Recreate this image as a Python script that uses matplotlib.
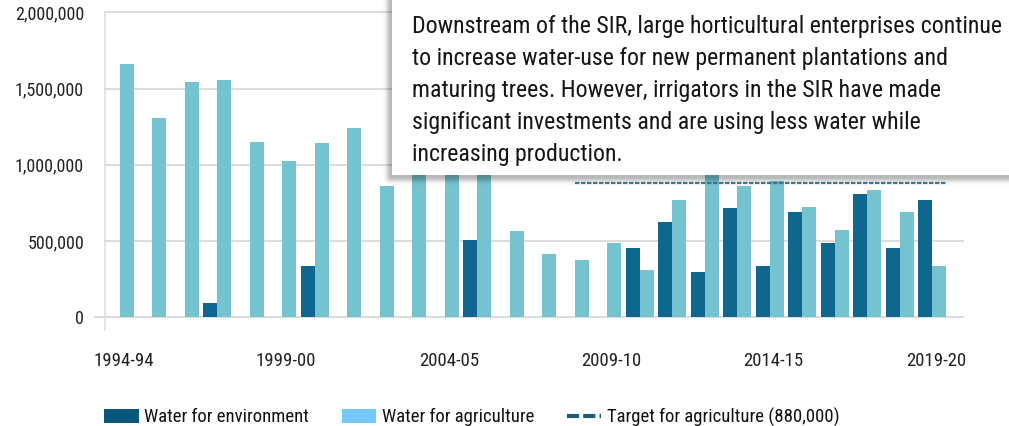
import matplotlib
matplotlib.use('Agg')
import matplotlib.pyplot as plt
import numpy as np
from matplotlib import font_manager as fm
from matplotlib.patches import Patch, Rectangle
from matplotlib.lines import Line2D

# ---------------- data ----------------
years = ["1994-95", "1995-96", "1996-97", "1997-98", "1998-99", "1999-00",
         "2000-01", "2001-02", "2002-03", "2003-04", "2004-05", "2005-06",
         "2006-07", "2007-08", "2008-09", "2009-10", "2010-11", "2011-12",
         "2012-13", "2013-14", "2014-15", "2015-16", "2016-17", "2017-18",
         "2018-19", "2019-20"]
water_env = [0, 0, 0, 90000, 0, 0, 337000, 0, 0, 0, 0, 506000, 0, 0, 0, 0,
             453000, 626000, 298000, 716000, 337000, 690000, 488000, 808000,
             453000, 771000]
water_agri = [1660000, 1305000, 1542000, 1559000, 1152000, 1025000, 1143000,
              1244000, 863000, 1250000, 1100000, 1200000, 563000, 416000,
              372000, 488000, 309000, 771000, 1050000, 863000, 896000, 725000,
              572000, 834000, 690000, 335000]
target_value = 880000
target_start = "2008-09"
tick_years = ["1994-95", "1999-00", "2004-05", "2009-10", "2014-15", "2019-20"]
tick_labels = ["1994-94", "1999-00", "2004-05", "2009-10", "2014-15", "2019-20"]
y_ticks = [0, 500000, 1000000, 1500000, 2000000]
callout_lines = [
    "Downstream of the SIR, large horticultural enterprises continue",
    "to increase water-use for new permanent plantations and",
    "maturing trees. However, irrigators in the SIR have made",
    "significant investments and are using less water while",
    "increasing production.",
]

# ---------------- fonts ----------------
names = {f.name for f in fm.fontManager.ttflist}
family = 'DejaVu Sans'
stretch = 'normal'
for cand in ['Roboto Condensed', 'Liberation Sans Narrow', 'Asap Condensed',
             'Archivo Narrow']:
    if cand in names:
        family = cand
        break
else:
    stretch = 'condensed'
plt.rcParams['font.family'] = [family]
plt.rcParams['font.stretch'] = stretch

W, H = 1009, 426
fig = plt.figure(figsize=(W / 100, H / 100), dpi=100)
fig.patch.set_facecolor('white')

ax = fig.add_axes([105 / W, 1 - 330 / H, (963 - 105) / W, (330 - 12.5) / H])
x = np.arange(len(years))
w = 0.43
env_color = '#0F6790'
agri_color = '#75C3CE'
ax.bar(x - w, water_env, width=w, align='edge', color=env_color, zorder=3)
ax.bar(x, water_agri, width=w, align='edge', color=agri_color, zorder=3)

i0 = years.index(target_start)
ax.plot([i0, len(years) - 1 + w], [target_value, target_value], color='#3F79A3',
        lw=1.6, dashes=(2.0, 0.7), zorder=4)

for yt in y_ticks:
    ax.axhline(yt, color='#DCDCDC', lw=1.5, zorder=1,
               xmin=(-0.012 if yt == 0 else 0), clip_on=False)

ax.set_xlim(-0.46, 25.95)
ax.set_ylim(-85000, 2000000)
ax.set_yticks(y_ticks)
ax.set_yticklabels([f"{v:,}" for v in y_ticks])
ax.set_xticks([years.index(t) + 0.12 for t in tick_years])
ax.set_xticklabels(tick_labels)
ax.tick_params(axis='both', length=0, colors='#222222')
ax.tick_params(axis='y', pad=15, labelsize=13)
ax.tick_params(axis='x', pad=16, labelsize=13.5)
for s in ['top', 'right', 'bottom']:
    ax.spines[s].set_visible(False)
ax.spines['left'].set_color('#E0E0E0')
ax.spines['left'].set_linewidth(1.2)

# legend
handles = [Patch(facecolor='#07587A', edgecolor='none'),
           Patch(facecolor='#75C8FB', edgecolor='none'),
           Line2D([0], [0], color='#1A5E80', lw=3, dashes=(2.9, 1.0))]
labels = ["Water for environment", "Water for agriculture",
          "Target for agriculture (880,000)"]
fig.legend(handles, labels, loc='center left', bbox_to_anchor=(104 / W, 1 - 417 / H),
           ncol=3, frameon=False, fontsize=13.5, handlelength=1.85, handleheight=0.75,
           handletextpad=0.28, columnspacing=1.75, borderpad=0, borderaxespad=0,
           labelcolor='#111111')

# callout overlay
ov = fig.add_axes([0, 0, 1, 1], zorder=10)
ov.set_xlim(0, W)
ov.set_ylim(H, 0)
ov.axis('off')
ov.patch.set_alpha(0)
bx0, bx1, by0, by1 = 392, 1040, -40, 175
yy, xx = np.mgrid[0:H, 0:W] + 0.5
sx0, sx1, sy0, sy1 = bx0 - 1, bx1, by0, by1 + 2
dx = np.maximum(np.maximum(sx0 - xx, xx - sx1), 0)
dy = np.maximum(np.maximum(sy0 - yy, yy - sy1), 0)
d = np.sqrt(dx ** 2 + dy ** 2)
alpha = 0.28 * np.exp(-(d / 4.5) ** 2)
rgba = np.zeros((H, W, 4))
rgba[..., 3] = alpha
ov.imshow(rgba, extent=(0, W, H, 0), interpolation='bilinear', zorder=1)
ov.add_patch(Rectangle((bx0, by0), bx1 - bx0, by1 - by0, facecolor='white',
                       edgecolor='none', zorder=2))
for k, line in enumerate(callout_lines):
    ov.text(412, 33 + 32 * k, line, fontsize=17.2, color='#151515', va='baseline',
            ha='left', zorder=3)

fig.savefig('out.png', dpi=100, facecolor='white')
